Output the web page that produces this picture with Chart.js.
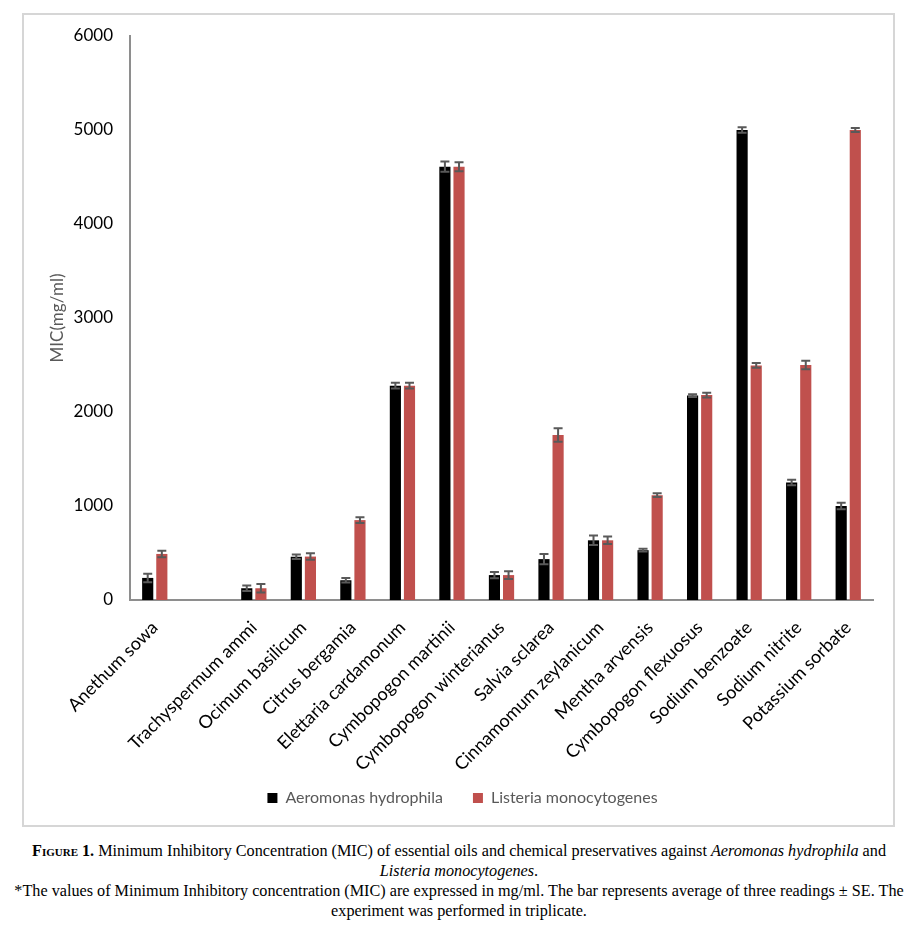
<!DOCTYPE html>
<html>
<head>
<meta charset="utf-8">
<script src="https://cdn.jsdelivr.net/npm/chart.js@4.4.0/dist/chart.umd.min.js"></script>
<style>
  body { margin: 0; background: #fff; }
  #box {
    position: absolute; left: 22px; top: 13px; width: 873px; height: 814px;
    border: 2px solid #d6d6d6; box-sizing: border-box;
  }
  #caption {
    position: absolute; left: 0; top: 842px; width: 918px;
    font-family: "Liberation Serif", "Times New Roman", serif;
    font-size: 16.2px; line-height: 19.9px; text-align: center; color: #000;
  }
  #caption div { white-space: nowrap; }
  .sc { font-variant: small-caps; font-weight: bold; }
</style>
</head>
<body>
<div id="box"><canvas id="chart" width="869" height="810"></canvas></div>
<div id="caption">
  <div><span class="sc">Figure 1.</span> Minimum Inhibitory Concentration (MIC) of essential oils and chemical preservatives against <i>Aeromonas hydrophila</i> and</div>
  <div><i>Listeria monocytogenes</i>.</div>
  <div>*The values of Minimum Inhibitory concentration (MIC) are expressed in mg/ml. The bar represents average of three readings ± SE. The</div>
  <div>experiment was performed in triplicate.</div>
</div>
<script>
var categories = ['Anethum sowa', '', 'Trachyspermum ammi', 'Ocimum basilicum', 'Citrus bergamia',
  'Elettaria cardamonum', 'Cymbopogon martinii', 'Cymbopogon winterianus', 'Salvia sclarea',
  'Cinnamomum zeylanicum', 'Mentha arvensis', 'Cymbopogon flexuosus', 'Sodium benzoate',
  'Sodium nitrite', 'Potassium sorbate'];
var aeromonas = [235, null, 125, 460, 210, 2280, 4610, 265, 435, 635, 530, 2175, 5000, 1250, 1000];
var aeromonas_se = [45, null, 28, 25, 25, 30, 55, 33, 55, 50, 15, 15, 30, 30, 35];
var listeria = [490, null, 125, 462, 850, 2280, 4610, 265, 1755, 635, 1115, 2180, 2495, 2500, 5000];
var listeria_se = [35, null, 45, 35, 30, 30, 48, 42, 72, 40, 20, 25, 25, 45, 20];
var y_ticks = [0, 1000, 2000, 3000, 4000, 5000, 6000];

var font_name = 'Lato';

// draws the +/- SE whiskers on top of each bar
var errorBars = {
  id: 'errorBars',
  afterDatasetsDraw: function(chart) {
    var ctx = chart.ctx;
    var y = chart.scales.y;
    ctx.save();
    ctx.strokeStyle = '#595959';
    ctx.lineWidth = 2;
    chart.data.datasets.forEach(function(ds, di) {
      var meta = chart.getDatasetMeta(di);
      meta.data.forEach(function(bar, i) {
        var v = ds.data[i];
        var e = ds.errors[i];
        if (v == null || e == null) return;
        var top = y.getPixelForValue(v + e);
        var bot = y.getPixelForValue(v - e);
        ctx.beginPath();
        ctx.moveTo(bar.x, top); ctx.lineTo(bar.x, bot);
        ctx.moveTo(bar.x - 4.5, top); ctx.lineTo(bar.x + 4.5, top);
        ctx.moveTo(bar.x - 4.5, bot); ctx.lineTo(bar.x + 4.5, bot);
        ctx.stroke();
      });
    });
    ctx.restore();
  }
};

// pull the legend up a bit (the x labels need the room) and nudge it right
var legendShift = {
  id: 'legendShift',
  afterLayout: function(chart) {
    var lg = chart.legend;
    lg.top -= 9; lg.bottom -= 9;
    lg.left += 14; lg.right += 14;
  }
};

var ctx = document.getElementById('chart');
new Chart(ctx, {
  type: 'bar',
  data: {
    labels: categories,
    datasets: [
      {
        label: 'Aeromonas hydrophila',
        data: aeromonas,
        errors: aeromonas_se,
        backgroundColor: '#000000',
        categoryPercentage: 0.57,
        barPercentage: 0.79
      },
      {
        label: 'Listeria monocytogenes',
        data: listeria,
        errors: listeria_se,
        backgroundColor: '#C0504D',
        categoryPercentage: 0.57,
        barPercentage: 0.79
      }
    ]
  },
  options: {
    responsive: false,
    animation: false,
    layout: {
      padding: { left: 0, right: 20, top: 21, bottom: 0 }
    },
    scales: {
      x: {
        grid: { display: false, drawTicks: false },
        border: { color: '#8e8e8e', width: 2 },
        ticks: {
          color: '#000',
          minRotation: 45,
          maxRotation: 45,
          autoSkip: false,
          padding: 17,
          font: { family: font_name, size: 18 }
        },
        afterFit: function(scale) { scale.height = 169; }
      },
      y: {
        min: 0,
        max: 6000,
        grid: { display: false, drawTicks: false },
        border: { color: '#8e8e8e', width: 2 },
        afterBuildTicks: function(scale) {
          scale.ticks = y_ticks.map(function(v) { return { value: v }; });
        },
        ticks: {
          color: '#000',
          padding: 17,
          callback: function(value) { return String(value); },
          font: { family: font_name, size: 17 }
        },
        title: {
          display: true,
          text: 'MIC(mg/ml)',
          color: '#595959',
          padding: { top: 23, bottom: 0 },
          font: { family: font_name, size: 17 }
        },
        afterFit: function(scale) {
          scale.width = 106;
          scale.paddingTop = 0;
        }
      }
    },
    plugins: {
      legend: {
        position: 'bottom',
        labels: {
          color: '#595959',
          boxWidth: 10,
          boxHeight: 10,
          padding: 30,
          font: { family: font_name, size: 16 }
        }
      },
      tooltip: { enabled: false }
    }
  },
  plugins: [errorBars, legendShift]
});
</script>
</body>
</html>
